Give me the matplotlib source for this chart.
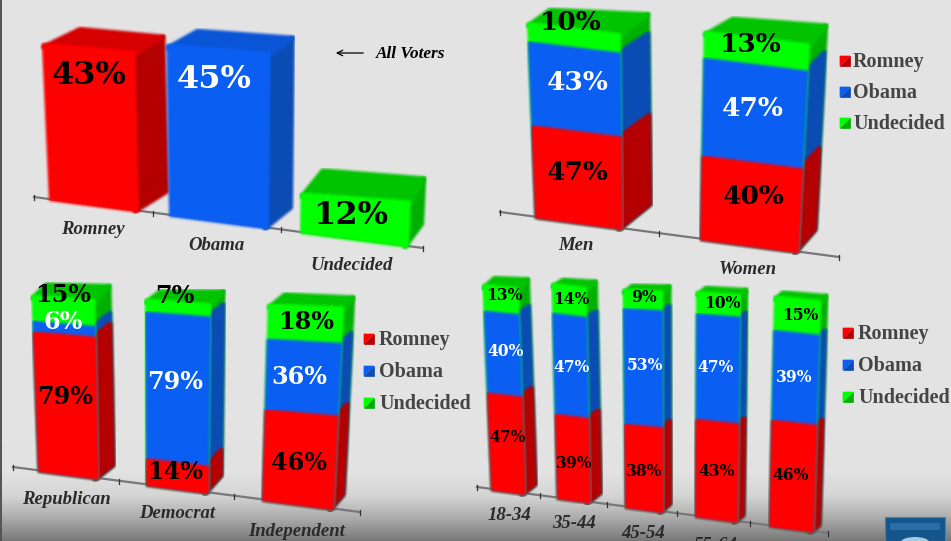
"""Redraw of the four 3D-look poll bar panels (Romney / Obama / Undecided)."""

import matplotlib

matplotlib.use("Agg")
import matplotlib.pyplot as plt
from matplotlib.patches import Ellipse, Polygon, Rectangle
import numpy as np

WIDTH, HEIGHT = 951, 541
SERIF = "Liberation Serif"
NUMBER_SERIF = "DejaVu Serif"

CANDIDATES = ["Romney", "Obama", "Undecided"]

ALL_LABELS = ["Romney", "Obama", "Undecided"]
ALL_VALUES = [[43, 0, 0], [0, 45, 0], [0, 0, 12]]

GENDER_LABELS = ["Men", "Women"]
GENDER_ROMNEY = [47, 40]
GENDER_OBAMA = [43, 47]
GENDER_UNDECIDED = [10, 13]

PARTY_LABELS = ["Republican", "Democrat", "Independent"]
PARTY_ROMNEY = [79, 14, 46]
PARTY_OBAMA = [6, 79, 36]
PARTY_UNDECIDED = [15, 7, 18]

AGE_LABELS = ["18-34", "35-44", "45-54", "55-64"]
AGE_ROMNEY = [47, 39, 38, 43, 46]
AGE_OBAMA = [40, 47, 53, 47, 39]
AGE_UNDECIDED = [13, 14, 9, 10, 15]

FRONT = ["#ff0000", "#0a5ff2", "#00ff00"]
SIDE = ["#b40000", "#0a4cb4", "#00b000"]
TOP = ["#d60000", "#0a55d6", "#00c400"]
TEXT_ON = ["black", "white", "black"]

# layout of each panel, all in reference pixels
PANELS = [
    dict(
        stacks=list(zip(*ALL_VALUES)),
        axis=(34, 197, 423, 248),
        ticks=[34, 153, 281, 423],
        bars=[(50, 138), (170, 268), (301, 408)],
        scale=[(3.63, 3.72), (3.8, 3.91), (3.3, 3.8)],
        depth=[(29, -20, -15), (23, -21, -15), (14, -23, -23)],
        back_left=[(37, -15), (30, -14), (21, -23)],
        vanish=(230, 2.5e-4),
        size=23,
        pct=[[(89, 75)], [(214, 80)], [(351, 216)]],
        names=ALL_LABELS,
        name_xy=[(93, 230), (216, 246), (352, 265)],
    ),
    dict(
        stacks=[GENDER_ROMNEY, GENDER_OBAMA, GENDER_UNDECIDED],
        axis=(500, 212, 839, 257),
        ticks=[500, 659, 839],
        bars=[(536, 622), (701, 798)],
        scale=[(1.95, 1.95), (2.08, 2.08)],
        depth=[(28, -25, -20), (17, -23, -19)],
        back_left=[(22, -13), (28, -13)],
        vanish=(650, 3.6e-4),
        size=19,
        pct=[[(578, 172), (578, 83), (571, 22)], [(754, 197), (753, 108), (751, 45)]],
        names=GENDER_LABELS,
        name_xy=[(576, 246), (748, 270)],
    ),
    dict(
        stacks=[PARTY_ROMNEY, PARTY_OBAMA, PARTY_UNDECIDED],
        axis=(13, 467, 360, 512),
        ticks=[13, 119, 234, 360],
        bars=[(39, 98), (147, 208), (263, 333)],
        scale=[(1.76, 1.79), (1.86, 1.89), (1.96, 2.02)],
        depth=[(15, -14, -14), (13, -18, -13), (10, -15, -10)],
        back_left=[(14, -11), (14, -8), (16, -10)],
        vanish=(165, 3e-4),
        size=17.2,
        pct=[
            [(65, 397), (63, 322), (63, 295)],
            [(175, 472), (175, 382), (175, 296)],
            [(299, 463), (299, 377), (306, 322)],
        ],
        names=PARTY_LABELS,
        name_xy=[(66, 500), (177, 513), (297, 531)],
    ),
    dict(
        stacks=[AGE_ROMNEY, AGE_OBAMA, AGE_UNDECIDED],
        axis=(477, 487, 828, 533),
        ticks=[477, 540, 607, 677, 750, 828],
        bars=[(492, 525), (558, 590), (626, 663), (696, 737), (770, 813)],
        scale=[(2.05, 2.06), (2.15, 2.15), (2.18, 2.21), (2.25, 2.27), (2.3, 2.31)],
        depth=[(10, -10, -9), (10, -10, -6), (7, -9, -5), (6, -7, -5), (6, -7, -5)],
        back_left=[(11, -7), (11, -4), (9, -4), (9, -4), (8, -4)],
        vanish=(675, 2.3e-4),
        size=11.2,
        pct=[
            [(508, 437), (506, 351), (504, 295)],
            [(574, 463), (572, 367), (571, 299)],
            [(644, 472), (645, 366), (644, 298)],
            [(717, 472), (716, 368), (722, 303)],
            [(791, 476), (794, 377), (800, 315)],
        ],
        names=AGE_LABELS,
        name_xy=[(509, 515), (574, 524), (643, 533), (716, 545)],
    ),
]

LEGENDS = [(840, 853, [62, 93, 124]), (364, 379, [340, 372, 404]), (843, 858, [334, 366, 398])]


def blur(image, dpi):
    # faces are one solid colour, so only the alpha needs softening
    kernel = np.array([1, 2, 3, 2, 1]) / 9
    alpha = image[:, :, 3]
    row, col = np.unravel_index(np.argmax(alpha), alpha.shape)
    out = np.empty_like(image)
    out[:, :, :3] = image[row, col, :3]
    for axis in (0, 1):
        alpha = np.apply_along_axis(lambda line: np.convolve(line, kernel, mode="same"), axis, alpha)
    out[:, :, 3] = alpha
    return out, 0, 0


def add_face(ax, points, color, z, lw=1.5):
    patch = Polygon(points, closed=True, facecolor=color, edgecolor=color, linewidth=lw, joinstyle="round", zorder=z)
    patch.set_agg_filter(blur)
    ax.add_patch(patch)


def draw_bar(ax, panel, index, values):
    x_left, x_right = panel["bars"][index]
    x0, y0, x1, y1 = panel["axis"]
    slope = (y1 - y0) / (x1 - x0)
    scale_left, scale_right = panel["scale"][index]
    dx, dy_bottom, dy_top = panel["depth"][index]
    vx, spread = panel["vanish"]
    total = sum(values)

    def front(x_base, scale, height):
        # lines lean apart going up, away from the vanishing x
        lift = height * scale
        return x_base + (x_base - vx) * lift * spread, y0 + (x_base - x0) * slope + 1 - lift

    def left(height):
        return front(x_left, scale_left, height)

    def right(height):
        return front(x_right, scale_right, height)

    def back(height):
        x, y = right(height)
        return x + dx, y + dy_bottom + (dy_top - dy_bottom) * height / total

    def tucked(point, shift_x, shift_y):
        return point[0] + shift_x, point[1] + shift_y

    z = 3 + index * 0.1
    top_left = left(total)
    top_right = right(total)
    back_right = back(total)
    back_left = (top_left[0] + panel["back_left"][index][0], top_left[1] + panel["back_left"][index][1])

    # every layer runs down to the base so the blurred seams never show through
    layers = []
    stacked = 0
    for series, value in enumerate(values):
        if value:
            stacked += value
            layers.append((series, stacked))
    layers.reverse()

    for order, (series, high) in enumerate(layers):
        add_face(ax, [back(0), back(high), tucked(right(high), -3, 0), tucked(right(0), -3, 0)], SIDE[series], z + order * 0.001, lw=3)
    add_face(ax, [tucked(top_left, 0, 3), tucked(top_right, 0, 3), back_right, back_left], TOP[layers[0][0]], z + 0.01, lw=3)
    for order, (series, high) in enumerate(layers):
        add_face(ax, [left(0), right(0), right(high), left(high)], FRONT[series], z + 0.02 + order * 0.001)


def draw_panel(ax, panel):
    x0, y0, x1, y1 = panel["axis"]
    slope = (y1 - y0) / (x1 - x0)
    ax.plot([x0, x1], [y0, y1], color="#77777c", lw=1.6, zorder=2)
    for tick in panel["ticks"]:
        y = y0 + (tick - x0) * slope
        ax.plot([tick, tick], [y - 2, y + 3], color="#333333", lw=0.9, zorder=2)

    stacks = np.array(panel["stacks"]).T
    for index, values in enumerate(stacks):
        draw_bar(ax, panel, index, list(values))

    for index, values in enumerate(stacks):
        kept = [series for series, value in enumerate(values) if value]
        for series, (x, y) in zip(kept, panel["pct"][index]):
            ax.text(x, y, f"{values[series]}%", color=TEXT_ON[series], fontsize=panel["size"], fontweight="bold",
                    family=NUMBER_SERIF, ha="center", va="center", zorder=6)

    for name, (x, y) in zip(panel["names"], panel["name_xy"]):
        ax.text(x, y, name, color="#2a2a2a", fontsize=13.5, fontstyle="italic", fontweight="bold",
                family=SERIF, ha="center", va="center", zorder=6)


def draw_legend(ax, x_box, x_text, rows):
    for series, (name, y) in enumerate(zip(CANDIDATES, rows)):
        left, right, top, bottom = x_box, x_box + 10, y - 6, y + 4
        ax.add_patch(Polygon([(left, top), (right, top), (left, bottom)], facecolor=FRONT[series], edgecolor=FRONT[series], lw=0.5, zorder=5))
        ax.add_patch(Polygon([(right, top), (right, bottom), (left, bottom)], facecolor=SIDE[series], edgecolor=SIDE[series], lw=0.5, zorder=5))
        ax.text(x_text, y, name, color="#454545", fontsize=14.5, fontweight="bold", family=SERIF, ha="left", va="center", zorder=6)


def draw_background(ax):
    rows = np.arange(HEIGHT)
    shade = np.interp(rows, [0, 470, 495, 517, 541], [228, 226, 212, 172, 118])
    ax.imshow(shade[:, None], cmap="gray", vmin=0, vmax=255, extent=(0, WIDTH, HEIGHT, 0), aspect="auto", zorder=0)
    ax.add_patch(Rectangle((0, 0), 1.5, HEIGHT, facecolor="#555555", edgecolor="none", zorder=1))


def draw_logo(ax):
    ax.add_patch(Rectangle((885, 517), 60, 24, facecolor="#14568c", edgecolor="#3a86b8", lw=0.8, zorder=5))
    ax.add_patch(Rectangle((890, 523), 50, 7, facecolor="#2a6ea8", edgecolor="none", zorder=5))
    ax.add_patch(Ellipse((915, 542), 28, 10, facecolor="#a8c8e0", edgecolor="none", zorder=5, clip_on=True))


def main():
    fig = plt.figure(figsize=(WIDTH / 100, HEIGHT / 100), dpi=100)
    ax = fig.add_axes([0, 0, 1, 1])
    draw_background(ax)
    ax.set_xlim(0, WIDTH)
    ax.set_ylim(HEIGHT, 0)
    ax.axis("off")

    for panel in PANELS:
        draw_panel(ax, panel)
    for x_box, x_text, rows in LEGENDS:
        draw_legend(ax, x_box, x_text, rows)

    ax.annotate("", xy=(333, 53), xytext=(366, 53), arrowprops=dict(arrowstyle="->", color="black", lw=0.9), zorder=6)
    ax.text(376, 54, "All Voters", color="black", fontsize=12.4, fontstyle="italic", fontweight="bold",
            family=SERIF, ha="left", va="center", zorder=6)

    draw_logo(ax)

    fig.savefig("out.png", dpi=100)
    plt.close(fig)


if __name__ == "__main__":
    main()
